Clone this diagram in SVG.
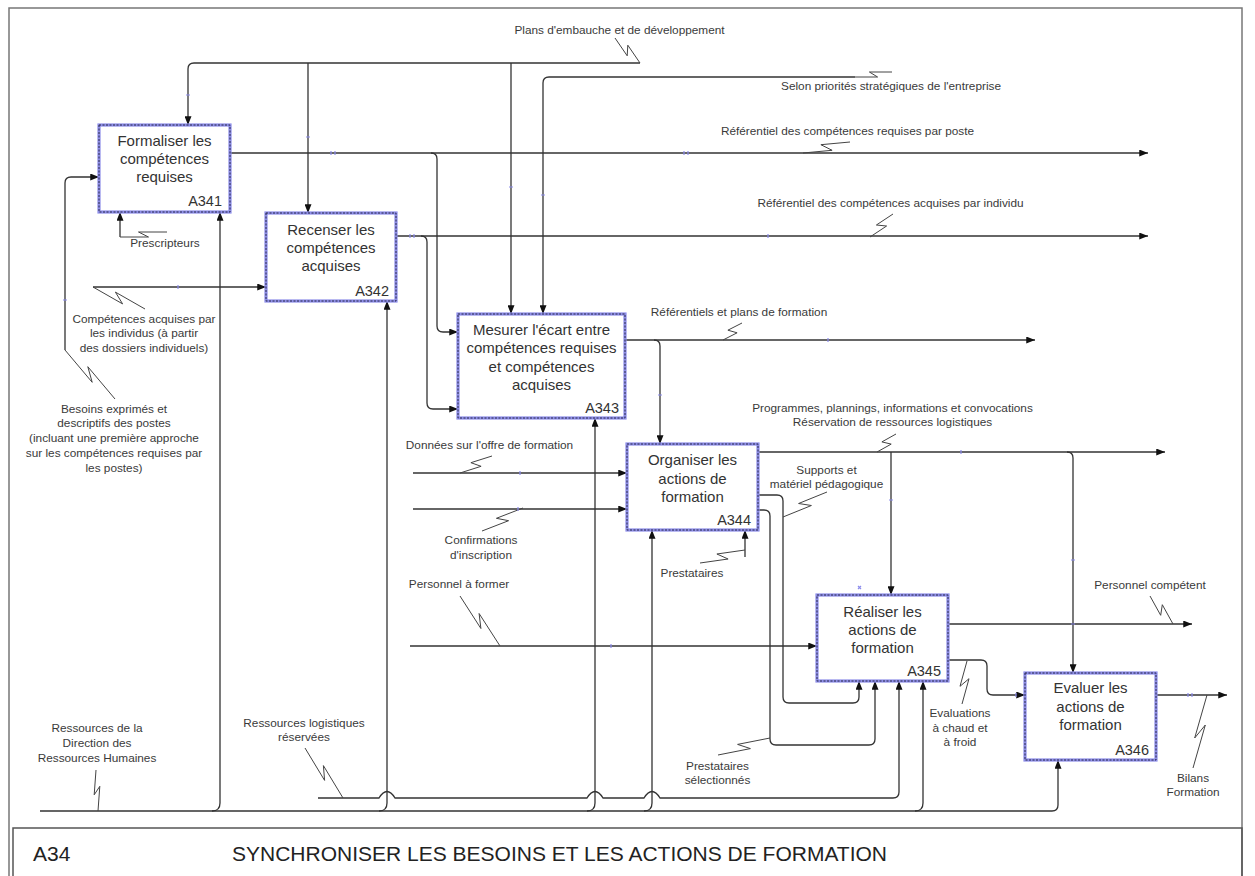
<svg xmlns="http://www.w3.org/2000/svg" width="1255" height="876" viewBox="0 0 1255 876">
  <style>
    .frame { fill: none; stroke: #777; stroke-width: 1.5; }
    .band { fill: #fff; stroke: #8d8de8; stroke-width: 3.2; }
    .edge { fill: none; stroke: #2a2a4a; stroke-width: 1; stroke-dasharray: 2 1.5; }
    .ntext { font-family: "Liberation Sans", Arial, sans-serif; font-size: 15px; fill: #333; text-anchor: middle; }
    .nid { font-family: "Liberation Sans", Arial, sans-serif; font-size: 14.5px; fill: #333; text-anchor: end; }
    .lbl { font-family: "Liberation Sans", Arial, sans-serif; font-size: 11.8px; fill: #3a3a3a; text-anchor: middle; }
    .wire { fill: none; stroke: #333; stroke-width: 1.3; }
    .arr { fill: none; stroke: #333; stroke-width: 1.3; marker-end: url(#ah); }
    .sq { fill: none; stroke: #444; stroke-width: 1; }
    .cp { fill: none; stroke: #8c8cec; stroke-width: 1.2; }
    .title { font-family: "Liberation Sans", Arial, sans-serif; font-size: 21px; fill: #222; }
  </style>
  <defs>
    <marker id="ah" viewBox="0 0 10 8" markerWidth="9" markerHeight="7" refX="10" refY="4" orient="auto" markerUnits="userSpaceOnUse">
      <path d="M0,0 L10,4 L0,8 z" fill="#111"/>
    </marker>
  </defs>

  <rect width="1255" height="876" fill="#fff"/>

  <!-- page frame and title block -->
  <rect class="frame" x="9" y="8" width="1233" height="880"/>
  <rect x="13" y="828" width="1229" height="60" fill="none" stroke="#555" stroke-width="1.5"/>
  <text class="title" x="33" y="861">A34</text>
  <text class="title" x="232" y="861">SYNCHRONISER LES BESOINS ET LES ACTIONS DE FORMATION</text>

  <!-- connectors -->
  <g id="connectors">
    <!-- controls from the top -->
    <path class="arr" d="M640,63 H194 Q188,63 188,69 V125"/>
    <path class="arr" d="M308,63 V213"/>
    <path class="arr" d="M511,63 V314"/>
    <path class="arr" d="M855,77 H549 Q543,77 543,83 V314"/>

    <!-- A341 output -->
    <path class="arr" d="M230,153 H1148"/>
    <path class="arr" d="M431,153 Q437,153 437,159 V326 Q437,332 443,332 H458"/>

    <!-- A342 output -->
    <path class="arr" d="M396,236 H1148"/>
    <path class="arr" d="M421,236 Q427,236 427,242 V403 Q427,409 433,409 H458"/>

    <!-- A343 output -->
    <path class="arr" d="M625,340 H1035"/>
    <path class="arr" d="M654,340 Q660,340 660,346 V444"/>

    <!-- A344 outputs -->
    <path class="arr" d="M758,452 H1165"/>
    <path class="arr" d="M891,452 V595"/>
    <path class="arr" d="M1067,452 Q1073,452 1073,458 V673"/>
    <path class="arr" d="M758,495 H777 Q783,495 783,501 V697 Q783,703 789,703 H853 Q859,703 859,697 V681"/>
    <path class="arr" d="M758,510 H764 Q770,510 770,516 V739 Q770,745 776,745 H869 Q875,745 875,739 V681"/>

    <!-- A344 inputs and mechanism -->
    <path class="arr" d="M413,473 H627"/>
    <path class="arr" d="M413,509 H627"/>
    <path class="arr" d="M745,557 V530"/>

    <!-- A345 input and outputs -->
    <path class="arr" d="M410,646 H817"/>
    <path class="arr" d="M948,624 H1192"/>
    <path class="arr" d="M948,660 H981 Q987,660 987,666 V689 Q987,695 993,695 H1025"/>

    <!-- A346 output -->
    <path class="arr" d="M1156,695 H1227"/>

    <!-- left inputs -->
    <path class="arr" d="M65,350 V183 Q65,177 71,177 H99"/>
    <path class="arr" d="M93,287 H266"/>
    <path class="arr" d="M120,237 V212"/>

    <!-- mechanisms along the bottom -->
    <path class="arr" d="M40,811 H1052 Q1058,811 1058,805 V760"/>
    <path class="arr" d="M212,811 Q220,811 220,803 V212"/>
    <path class="arr" d="M379,811 Q387,811 387,803 V301"/>
    <path class="arr" d="M587,811 Q595,811 595,803 V418"/>
    <path class="arr" d="M644,811 Q652,811 652,803 V530"/>
    <path class="arr" d="M915,811 Q923,811 923,803 V681"/>
    <path class="arr" d="M318,798 H379 Q387,785 395,798 H587 Q595,785 603,798 H644 Q652,785 660,798 H893 Q899,798 899,792 V681"/>

    <!-- label squiggles -->
    <path class="sq" d="M615,38 L627.2,55.8 L627.8,45.2 L640,63"/>
    <path class="sq" d="M855,77 L877.6,77 L869.4,72 L892,72"/>
    <path class="sq" d="M803,153 L832.1,150.3 L820.9,144.7 L850,142"/>
    <path class="sq" d="M870,237 L886.6,226 L876.4,225 L893,214"/>
    <path class="sq" d="M723,340 L737.1,332.8 L727.9,330.2 L742,323"/>
    <path class="sq" d="M877,452 L891.2,444.1 L881.9,441.9 L896,434"/>
    <path class="sq" d="M460,473 L481.1,466.3 L470.9,462.7 L492,456"/>
    <path class="sq" d="M482,531 L508.6,520.7 L496.4,518.3 L523,508"/>
    <path class="sq" d="M700,563 L728.1,559 L716.9,554 L745,550"/>
    <path class="sq" d="M783,517 L811.4,505.5 L798.6,503.5 L827,492"/>
    <path class="sq" d="M460,596 L480.9,628.5 L479.1,613.5 L500,646"/>
    <path class="sq" d="M718,755 L750.4,748.6 L737.6,744.4 L770,738"/>
    <path class="sq" d="M1150,596 L1160.7,615.3 L1162.3,604.7 L1173,624"/>
    <path class="sq" d="M962,704 L969,678.7 L960,686.3 L967,661"/>
    <path class="sq" d="M1193,768 L1205.3,725 L1194.7,738 L1207,695"/>
    <path class="sq" d="M305,748 L324.6,780.4 L323.4,765.6 L343,798"/>
    <path class="sq" d="M96,770 L94.2,794.8 L99.8,786.3 L98,811"/>
    <path class="sq" d="M93,287 L122.6,303.9 L115.4,292.1 L145,309"/>
    <path class="sq" d="M65,350 L92.2,382.3 L87.8,366.7 L115,399"/>
    <path class="sq" d="M120,237 L148.5,237 L138.5,232 L167,232"/>

    <!-- connection handles -->
    <path class="cp" d="M186,95 h4 M306,137 h4 M331,151 v4 M335,151 v4 M684,151 v4 M688,151 v4 M509,187 h4 M541,195 h4 M768,234 v4 M410,234 v4 M414,234 v4 M178,285 v4 M828,338 v4 M658,395 h4 M520,471 v4 M518,507 v4 M961,450 v4 M889,500 h4 M1071,560 h4 M611,644 v4 M1071,624 h4 M1188,693 v4 M1192,693 v4 M1016,693 v4 M858,586 l3,3 M858,589 l3,-3 M63,300 h4"/>
  </g>

  <!-- edge labels -->
  <g id="labels">
    <text class="lbl" x="619.5" y="34">Plans d'embauche et de développement</text>
    <text class="lbl" x="891" y="90">Selon priorités stratégiques de l'entreprise</text>
    <text class="lbl" x="847.5" y="135">Référentiel des compétences requises par poste</text>
    <text class="lbl" x="890.5" y="207">Référentiel des compétences acquises par individu</text>
    <text class="lbl" x="739" y="316">Référentiels et plans de formation</text>
    <text class="lbl" x="892.5" y="412">Programmes, plannings, informations et convocations</text>
    <text class="lbl" x="892.5" y="426">Réservation de ressources logistiques</text>
    <text class="lbl" x="489.5" y="449">Données sur l'offre de formation</text>
    <text class="lbl" x="481" y="544">Confirmations</text>
    <text class="lbl" x="481" y="559">d'inscription</text>
    <text class="lbl" x="692" y="577">Prestataires</text>
    <text class="lbl" x="826.5" y="474">Supports et</text>
    <text class="lbl" x="826.5" y="488">matériel pédagogique</text>
    <text class="lbl" x="459" y="588">Personnel à former</text>
    <text class="lbl" x="717.5" y="770">Prestataires</text>
    <text class="lbl" x="717.5" y="784">sélectionnés</text>
    <text class="lbl" x="1150" y="589">Personnel compétent</text>
    <text class="lbl" x="960" y="717">Evaluations</text>
    <text class="lbl" x="960" y="732">à chaud et</text>
    <text class="lbl" x="960" y="746">à froid</text>
    <text class="lbl" x="1193" y="782">Bilans</text>
    <text class="lbl" x="1193" y="796">Formation</text>
    <text class="lbl" x="304" y="727">Ressources logistiques</text>
    <text class="lbl" x="304" y="741">réservées</text>
    <text class="lbl" x="97" y="732">Ressources de la</text>
    <text class="lbl" x="97" y="747">Direction des</text>
    <text class="lbl" x="97" y="762">Ressources Humaines</text>
    <text class="lbl" x="144" y="323">Compétences acquises par</text>
    <text class="lbl" x="144" y="337">les individus (à partir</text>
    <text class="lbl" x="144" y="352">des dossiers individuels)</text>
    <text class="lbl" x="114" y="413">Besoins exprimés et</text>
    <text class="lbl" x="114" y="427">descriptifs des postes</text>
    <text class="lbl" x="114" y="442">(incluant une première approche</text>
    <text class="lbl" x="114" y="457">sur les compétences requises par</text>
    <text class="lbl" x="114" y="472">les postes)</text>
    <text class="lbl" x="165" y="247">Prescripteurs</text>
  </g>

  <!-- activity boxes -->
  <g id="A341">
    <rect class="band" x="99" y="125" width="131" height="87"/>
    <rect class="edge" x="99" y="125" width="131" height="87"/>
    <text class="ntext" x="164.5" y="146">Formaliser les</text>
    <text class="ntext" x="164.5" y="164">compétences</text>
    <text class="ntext" x="164.5" y="182">requises</text>
    <text class="nid" x="222" y="205.5">A341</text>
  </g>
  <g id="A342">
    <rect class="band" x="266" y="213" width="130" height="88"/>
    <rect class="edge" x="266" y="213" width="130" height="88"/>
    <text class="ntext" x="331" y="235">Recenser les</text>
    <text class="ntext" x="331" y="253">compétences</text>
    <text class="ntext" x="331" y="271">acquises</text>
    <text class="nid" x="389" y="295.5">A342</text>
  </g>
  <g id="A343">
    <rect class="band" x="458" y="314" width="167" height="104"/>
    <rect class="edge" x="458" y="314" width="167" height="104"/>
    <text class="ntext" x="541.5" y="335">Mesurer l'écart entre</text>
    <text class="ntext" x="541.5" y="353">compétences requises</text>
    <text class="ntext" x="541.5" y="371.5">et compétences</text>
    <text class="ntext" x="541.5" y="390">acquises</text>
    <text class="nid" x="619" y="412.5">A343</text>
  </g>
  <g id="A344">
    <rect class="band" x="627" y="444" width="131" height="86"/>
    <rect class="edge" x="627" y="444" width="131" height="86"/>
    <text class="ntext" x="692.5" y="465">Organiser les</text>
    <text class="ntext" x="692.5" y="483.5">actions de</text>
    <text class="ntext" x="692.5" y="502">formation</text>
    <text class="nid" x="751" y="525">A344</text>
  </g>
  <g id="A345">
    <rect class="band" x="817" y="595" width="131" height="86"/>
    <rect class="edge" x="817" y="595" width="131" height="86"/>
    <text class="ntext" x="882.5" y="617">Réaliser les</text>
    <text class="ntext" x="882.5" y="635">actions de</text>
    <text class="ntext" x="882.5" y="653">formation</text>
    <text class="nid" x="941" y="675.5">A345</text>
  </g>
  <g id="A346">
    <rect class="band" x="1025" y="673" width="131" height="87"/>
    <rect class="edge" x="1025" y="673" width="131" height="87"/>
    <text class="ntext" x="1090.5" y="693">Evaluer les</text>
    <text class="ntext" x="1090.5" y="711.5">actions de</text>
    <text class="ntext" x="1090.5" y="730">formation</text>
    <text class="nid" x="1149" y="754.5">A346</text>
  </g>
</svg>
